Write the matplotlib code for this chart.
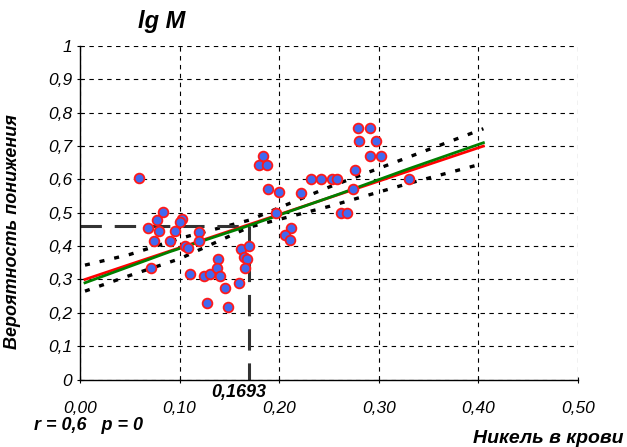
import matplotlib

matplotlib.use("Agg")
import matplotlib.pyplot as plt
from matplotlib.ticker import FixedLocator

plt.rcParams["font.family"] = ["Liberation Sans", "DejaVu Sans"]

# наблюдения: никель в крови -> вероятность понижения
x_nickel = [
    0.059, 0.083, 0.077, 0.068, 0.079, 0.095, 0.102, 0.100, 0.119, 0.119,
    0.074, 0.090, 0.105, 0.108, 0.071, 0.110, 0.124, 0.131, 0.139, 0.138,
    0.141, 0.146, 0.128, 0.149, 0.184, 0.180, 0.188, 0.189, 0.200, 0.222,
    0.232, 0.242, 0.253, 0.258, 0.197, 0.212, 0.206, 0.211, 0.162, 0.170,
    0.165, 0.168, 0.166, 0.160, 0.262, 0.268, 0.274, 0.276, 0.279, 0.280,
    0.291, 0.291, 0.297, 0.302, 0.330,
]
y_prob = [
    0.603, 0.501, 0.477, 0.454, 0.446, 0.446, 0.480, 0.472, 0.441, 0.415,
    0.415, 0.415, 0.400, 0.394, 0.333, 0.315, 0.311, 0.315, 0.361, 0.333,
    0.311, 0.274, 0.230, 0.216, 0.670, 0.644, 0.644, 0.572, 0.562, 0.558,
    0.602, 0.602, 0.602, 0.602, 0.500, 0.455, 0.433, 0.418, 0.390, 0.400,
    0.366, 0.360, 0.333, 0.288, 0.500, 0.500, 0.572, 0.627, 0.753, 0.716,
    0.753, 0.671, 0.716, 0.671, 0.602,
]

# линии регрессии и доверительная полоса
red_x = [0.005, 0.405]
red_y = [0.30, 0.70]
green_x = [0.005, 0.09, 0.17, 0.26, 0.33, 0.405]
green_y = [0.29, 0.383, 0.462, 0.556, 0.632, 0.71]
band_x = [0.005, 0.05, 0.10, 0.17, 0.25, 0.33, 0.405]
band_hi = [0.343, 0.375, 0.423, 0.478, 0.577, 0.667, 0.752]
band_lo = [0.265, 0.312, 0.362, 0.457, 0.519, 0.588, 0.648]

# точка отсечения
x_cut = 0.1693
y_cut = 0.461

x_ticks = [0.0, 0.1, 0.2, 0.3, 0.4, 0.5]
x_labels = ["0,00", "0,10", "0,20", "0,30", "0,40", "0,50"]
y_ticks = [0.0, 0.1, 0.2, 0.3, 0.4, 0.5, 0.6, 0.7, 0.8, 0.9, 1.0]
y_labels = ["0", "0,1", "0,2", "0,3", "0,4", "0,5", "0,6", "0,7", "0,8", "0,9", "1"]

fig = plt.figure(figsize=(6.27, 4.47), dpi=100)
ax = fig.add_axes([0.1276, 0.151, 0.7943, 0.746])
ax.set_xlim(0, 0.5)
ax.set_ylim(0, 1)

ax.xaxis.set_major_locator(FixedLocator(x_ticks))
ax.yaxis.set_major_locator(FixedLocator(y_ticks))
ax.set_xticklabels(x_labels, fontstyle="italic", fontsize=12.5)
ax.set_yticklabels(y_labels, fontstyle="italic", fontsize=12.5)
ax.tick_params(axis="x", direction="inout", length=5, pad=13)
ax.tick_params(axis="y", direction="inout", length=5, pad=3)
ax.grid(True, color="black", linestyle=(0, (4, 4)), linewidth=0.8)
ax.set_axisbelow(True)
for side in ("top", "right"):
    ax.spines[side].set_visible(False)
for side in ("left", "bottom"):
    ax.spines[side].set_linewidth(1.0)

band_style = dict(color="black", linewidth=2.4, linestyle=(0, (1.5, 3)),
                  dash_capstyle="butt", zorder=2)
ax.plot(band_x, band_hi, **band_style)
ax.plot(band_x, band_lo, **band_style)

ax.plot(red_x, red_y, color="#ff0000", linewidth=2.0, zorder=3)
ax.plot(green_x, green_y, color="#008000", linewidth=2.0, zorder=3)

cut_style = dict(color="#333333", linewidth=2.2, linestyle=(0, (7, 4.2)),
                 dash_capstyle="butt", zorder=2.5)
ax.plot([0, x_cut], [y_cut, y_cut], **cut_style)
ax.plot([x_cut, x_cut], [y_cut, 0], **cut_style)

ax.plot(x_nickel, y_prob, linestyle="none", marker="o", markersize=7,
        markerfacecolor="#4169f0", markeredgecolor="#ff1a1a",
        markeredgewidth=1.3, zorder=5, clip_on=False)

bold_it = dict(fontweight="bold", fontstyle="italic")
fig.text(0.258, 0.953, "lg M", fontsize=17, ha="center", va="center", **bold_it)
fig.text(0.02, 0.483, "Вероятность понижения", fontsize=13, rotation=90,
         ha="center", va="center", **bold_it)
fig.text(0.995, 0.02, "Никель в крови", fontsize=14, ha="right", va="center",
         **bold_it)
fig.text(0.054, 0.049, "r = 0,6   p = 0", fontsize=13, ha="left", va="center",
         **bold_it)
fig.text(0.381, 0.123, "0,1693", fontsize=13, ha="center", va="center", **bold_it)

fig.savefig("out.png", dpi=100)
plt.close(fig)
